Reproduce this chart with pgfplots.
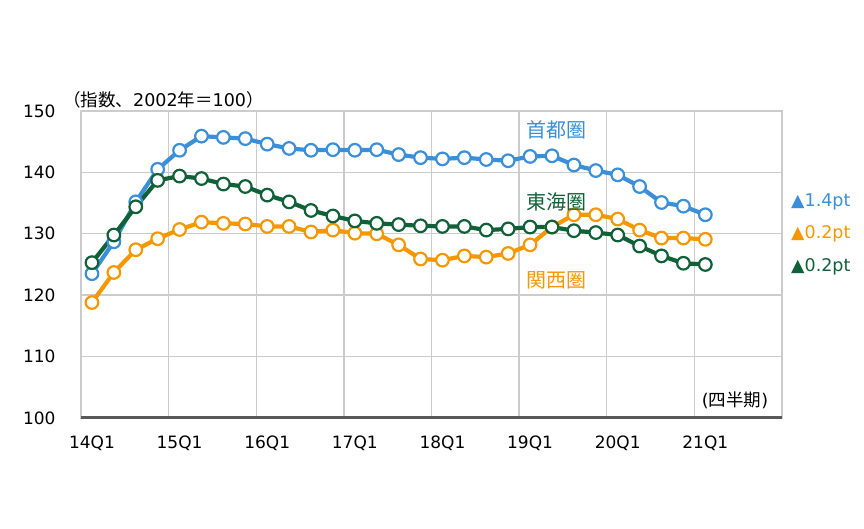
\documentclass[border=0pt]{standalone}
\usepackage{pgfplots}
\pgfplotsset{compat=1.18}
\usepackage{fontspec}
\setmainfont{DejaVu Sans}
\newfontfamily\cjk{Noto Sans CJK JP}

\definecolor{shuto}{RGB}{58,143,216}
\definecolor{kansai}{RGB}{245,152,0}
\definecolor{tokai}{RGB}{16,96,56}
\definecolor{gridc}{RGB}{204,204,204}
\definecolor{basec}{RGB}{89,89,89}

\begin{document}
\begin{tikzpicture}
\path[use as bounding box] (0,0) rectangle (864pt,529pt);
\begin{axis}[
    scale only axis,
    width=701pt, height=307pt,
    at={(81pt,111pt)}, anchor=south west,
    xmin=-0.5, xmax=31.5,
    ymin=100, ymax=150,
    xtick={0,4,...,28},
    xticklabels={14Q1,15Q1,16Q1,17Q1,18Q1,19Q1,20Q1,21Q1},
    minor xtick={3.5,7.5,...,27.5},
    ytick={100,110,...,150},
    major tick length=0pt, minor tick length=0pt,
    ymajorgrids, xminorgrids,
    grid style={gridc, line width=1.4pt},
    minor grid style={gridc, line width=1.4pt},
    axis line style={gridc, line width=1.4pt},
    /pgf/number format/assume math mode=true,
    tick label style={font=\fontsize{17}{20}\selectfont, text=black},
    yticklabel style={xshift=-22pt},
    xticklabel style={yshift=-14pt},
    clip=false,
    every axis plot/.append style={line width=4.2pt, mark=*, mark size=6.3pt},
]
\addplot[shuto, mark options={fill=white, draw=shuto, line width=2.2pt}] coordinates {
 (0,123.5) (1,128.7) (2,135.2) (3,140.5) (4,143.6) (5,145.9) (6,145.7) (7,145.5)
 (8,144.6) (9,143.9) (10,143.6) (11,143.7) (12,143.6) (13,143.7) (14,142.9) (15,142.4)
 (16,142.2) (17,142.4) (18,142.1) (19,141.9) (20,142.6) (21,142.7) (22,141.2) (23,140.3)
 (24,139.6) (25,137.7) (26,135.1) (27,134.5) (28,133.1)
};
\addplot[kansai, mark options={fill=white, draw=kansai, line width=2.2pt}] coordinates {
 (0,118.8) (1,123.7) (2,127.4) (3,129.2) (4,130.7) (5,131.9) (6,131.7) (7,131.6)
 (8,131.2) (9,131.2) (10,130.3) (11,130.6) (12,130.1) (13,130.0) (14,128.2) (15,125.9)
 (16,125.7) (17,126.4) (18,126.2) (19,126.8) (20,128.2) (21,131.1) (22,133.1) (23,133.1)
 (24,132.4) (25,130.6) (26,129.3) (27,129.3) (28,129.1)
};
\addplot[tokai, mark options={fill=white, draw=tokai, line width=2.2pt}] coordinates {
 (0,125.3) (1,129.8) (2,134.4) (3,138.7) (4,139.4) (5,139.0) (6,138.1) (7,137.7)
 (8,136.3) (9,135.2) (10,133.8) (11,132.9) (12,132.1) (13,131.7) (14,131.5) (15,131.3)
 (16,131.2) (17,131.2) (18,130.6) (19,130.8) (20,131.1) (21,131.1) (22,130.5) (23,130.2)
 (24,129.8) (25,128.0) (26,126.4) (27,125.2) (28,125.0)
};
\draw[basec, line width=3pt] (axis cs:-0.5,100) -- (axis cs:31.5,100);
\end{axis}
% titles and labels
\node[anchor=west, inner sep=0pt, font=\fontsize{17.5}{20}\selectfont] at (63pt,429pt) {{\cjk （指数、}2002{\cjk 年＝}100{\cjk ）}};
\node[inner sep=0pt, font=\fontsize{17.5}{20}\selectfont] at (735pt,129pt) {({\cjk 四半期})};
\node[anchor=west, inner sep=0pt, text=shuto, font=\cjk\fontsize{20}{22}\selectfont] at (526pt,399pt) {首都圏};
\node[anchor=west, inner sep=0pt, text=tokai, font=\cjk\fontsize{20}{22}\selectfont] at (526pt,327pt) {東海圏};
\node[anchor=west, inner sep=0pt, text=kansai, font=\cjk\fontsize{20}{22}\selectfont] at (526pt,249pt) {関西圏};
\node[anchor=west, inner sep=0pt, text=shuto, font=\fontsize{17.5}{20}\selectfont] at (791pt,327pt) {▲1.4pt};
\node[anchor=west, inner sep=0pt, text=kansai, font=\fontsize{17.5}{20}\selectfont] at (791pt,295pt) {▲0.2pt};
\node[anchor=west, inner sep=0pt, text=tokai, font=\fontsize{17.5}{20}\selectfont] at (791pt,262pt) {▲0.2pt};
\end{tikzpicture}
\end{document}
